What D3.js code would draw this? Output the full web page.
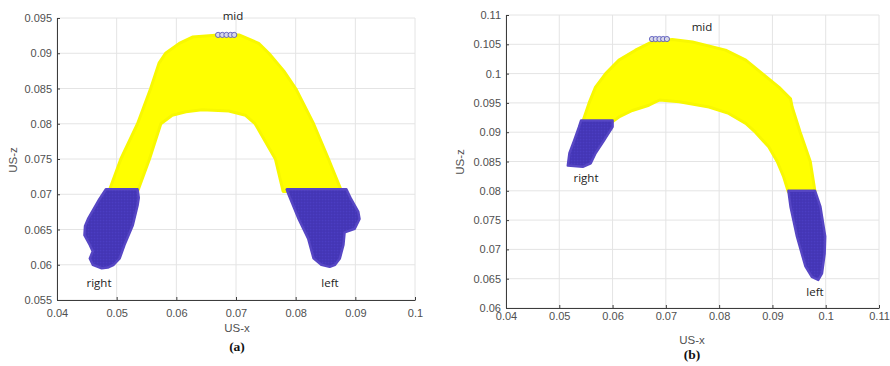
<!DOCTYPE html>
<html>
<head>
<meta charset="utf-8">
<script src="https://cdn.jsdelivr.net/npm/d3@7"></script>
<style>
  body { margin: 0; background: #fff; }
  svg { display: block; }
</style>
</head>
<body>
<svg id="chart"></svg>
<script>
// ---- panel (a) : outlines of the point clouds, [US-x, US-z]
const archA = [
  [0.0487, 0.0704], [0.0507, 0.075], [0.0535, 0.080], [0.0557, 0.085], [0.0571, 0.0886],
  [0.0582, 0.090], [0.0605, 0.0914], [0.0627, 0.0923], [0.0671, 0.0926],
  [0.0705, 0.0926], [0.0738, 0.0914], [0.0755, 0.090], [0.0780, 0.0875], [0.080, 0.085],
  [0.083, 0.080], [0.0855, 0.075], [0.0877, 0.0704],
  [0.0779, 0.0704], [0.0766, 0.075], [0.0732, 0.080], [0.0716, 0.0812], [0.0688, 0.0818],
  [0.0643, 0.0820], [0.0616, 0.0817], [0.0593, 0.0812], [0.0574, 0.080], [0.0555, 0.075],
  [0.0535, 0.0704]
];
const rightA = [
  [0.0482, 0.0707], [0.0535, 0.0707], [0.0537, 0.0695], [0.0535, 0.0684], [0.0527, 0.0656],
  [0.0513, 0.0628], [0.0505, 0.0609], [0.0495, 0.0600], [0.0485, 0.0596], [0.0475, 0.0595],
  [0.0460, 0.0600], [0.0455, 0.0609], [0.0460, 0.0619], [0.0455, 0.0628], [0.0446, 0.0642],
  [0.0447, 0.0655], [0.0452, 0.0665], [0.0471, 0.0693]
];
const leftA = [
  [0.0785, 0.0707], [0.0885, 0.0707], [0.0893, 0.0693], [0.0905, 0.0675], [0.0907, 0.0665],
  [0.0899, 0.0651], [0.0882, 0.0646], [0.0880, 0.0628], [0.0874, 0.0609], [0.0866, 0.0600],
  [0.0857, 0.0597], [0.0843, 0.0600], [0.0830, 0.0609], [0.0821, 0.0637], [0.0805, 0.0665],
  [0.0788, 0.0700]
];
const midA = [[0.0670, 0.0926], [0.0677, 0.0926], [0.0684, 0.0926], [0.0691, 0.0926], [0.0697, 0.0926]];

// ---- panel (b)
const archB = [
  [0.0544, 0.0918], [0.0556, 0.095], [0.0568, 0.0977], [0.0587, 0.100], [0.0612, 0.1023],
  [0.0643, 0.104], [0.0674, 0.1054], [0.0712, 0.1058],
  [0.0750, 0.1054], [0.0812, 0.104], [0.085, 0.1023], [0.0881, 0.100], [0.0912, 0.0977],
  [0.0934, 0.0957], [0.0937, 0.0943], [0.0952, 0.090], [0.0971, 0.085], [0.098, 0.0798],
  [0.093, 0.0798], [0.0921, 0.0824], [0.0909, 0.085], [0.0893, 0.0875], [0.0868, 0.090],
  [0.085, 0.0915], [0.0818, 0.0932], [0.0781, 0.0943], [0.0725, 0.0952], [0.0688, 0.0955],
  [0.0668, 0.0946], [0.0637, 0.0937], [0.0612, 0.0926], [0.060, 0.0918]
];
const rightB = [
  [0.0541, 0.0920], [0.0600, 0.0920], [0.0600, 0.0909], [0.0584, 0.0886], [0.0568, 0.0864],
  [0.0559, 0.0847], [0.0544, 0.0841], [0.0516, 0.0843], [0.0519, 0.0864], [0.0528, 0.0886],
  [0.0537, 0.0909]
];
const leftB = [
  [0.0930, 0.0800], [0.0980, 0.0800], [0.0990, 0.0773], [0.0999, 0.0722], [0.0998, 0.0693],
  [0.0993, 0.0659], [0.0986, 0.0648], [0.0974, 0.0653], [0.0962, 0.0671], [0.0955, 0.0693],
  [0.0946, 0.0722], [0.0934, 0.0773]
];
const midB = [[0.0674, 0.1059], [0.0681, 0.1059], [0.0688, 0.1059], [0.0695, 0.1059], [0.0702, 0.1059]];

// ---- ticks
const xTicksA = [0.04, 0.05, 0.06, 0.07, 0.08, 0.09, 0.1];
const xLabelsA = ["0.04", "0.05", "0.06", "0.07", "0.08", "0.09", "0.1"];
const yTicksA = [0.055, 0.06, 0.065, 0.07, 0.075, 0.08, 0.085, 0.09, 0.095];
const yLabelsA = ["0.055", "0.06", "0.065", "0.07", "0.075", "0.08", "0.085", "0.09", "0.095"];
const xTicksB = [0.04, 0.05, 0.06, 0.07, 0.08, 0.09, 0.1, 0.11];
const xLabelsB = ["0.04", "0.05", "0.06", "0.07", "0.08", "0.09", "0.1", "0.11"];
const yTicksB = [0.06, 0.065, 0.07, 0.075, 0.08, 0.085, 0.09, 0.095, 0.1, 0.105, 0.11];
const yLabelsB = ["0.06", "0.065", "0.07", "0.075", "0.08", "0.085", "0.09", "0.095", "0.1", "0.105", "0.11"];

const svg = d3.select("#chart").attr("width", 890).attr("height", 366);

// blue marker texture
const pat = svg.append("defs").append("pattern")
    .attr("id", "dots")
    .attr("width", 3)
    .attr("height", 3)
    .attr("patternUnits", "userSpaceOnUse");
pat.append("rect").attr("width", 3).attr("height", 3).attr("fill", "#4b3dc2");
pat.append("circle")
    .attr("cx", 1.5).attr("cy", 1.5).attr("r", 1.3)
    .attr("fill", "none").attr("stroke", "#3a2ba6").attr("stroke-width", 0.6);

function drawPanel(p) {
    const x = d3.scaleLinear().domain([p.xTicks[0], p.xTicks[p.xTicks.length - 1]]).range(p.xRange);
    const y = d3.scaleLinear().domain([p.yTicks[0], p.yTicks[p.yTicks.length - 1]]).range(p.yRange);
    const g = svg.append("g");

    // grille
    g.append("g").selectAll("line").data(p.xTicks).join("line")
        .attr("x1", d => x(d)).attr("x2", d => x(d))
        .attr("y1", p.yRange[0]).attr("y2", p.yRange[1])
        .attr("stroke", "#e4e4e4");
    g.append("g").selectAll("line").data(p.yTicks).join("line")
        .attr("x1", p.xRange[0]).attr("x2", p.xRange[1])
        .attr("y1", d => y(d)).attr("y2", d => y(d))
        .attr("stroke", "#e4e4e4");

    const line = d3.line().x(d => x(d[0])).y(d => y(d[1])).curve(d3.curveLinearClosed);

    // nuages de points (jaune puis bleu)
    g.append("path").attr("d", line(p.arch))
        .attr("fill", "#ffff00").attr("stroke", "#f8f800")
        .attr("stroke-width", 3).attr("stroke-linejoin", "round");
    [p.right, p.left].forEach(shape => {
        g.append("path").attr("d", line(shape))
            .attr("fill", "url(#dots)").attr("stroke", "#5646c4")
            .attr("stroke-width", 2.5).attr("stroke-linejoin", "round");
    });
    g.append("g").selectAll("circle").data(p.mid).join("circle")
        .attr("cx", d => x(d[0])).attr("cy", d => y(d[1])).attr("r", 2.6)
        .attr("fill", "#d8d8e8").attr("stroke", "#4a4ab8").attr("stroke-width", 0.8);

    // axes
    const ax = g.append("g").attr("transform", `translate(0,${p.yRange[0]})`)
        .call(d3.axisBottom(x).tickValues(p.xTicks).tickFormat((d, i) => p.xLabels[i])
            .tickSizeInner(-3).tickSizeOuter(0).tickPadding(p.xPad));
    const ay = g.append("g").attr("transform", `translate(${p.xRange[0]},0)`)
        .call(d3.axisLeft(y).tickValues(p.yTicks).tickFormat((d, i) => p.yLabels[i])
            .tickSizeInner(-3).tickSizeOuter(0).tickPadding(5));
    [ax, ay].forEach(a => {
        a.select(".domain").attr("stroke", "#3c3c3c");
        a.selectAll(".tick line").attr("stroke", "#3c3c3c");
        a.selectAll("text").attr("fill", "#505050")
            .style("font-family", "'Liberation Sans', Arial, sans-serif").style("font-size", "11px");
    });

    // titres d'axes
    g.append("text").attr("x", p.xLab[0]).attr("y", p.xLab[1])
        .attr("text-anchor", "middle").attr("fill", "#505050")
        .style("font-family", "'Liberation Sans', Arial, sans-serif").style("font-size", "11.5px")
        .text("US-x");
    g.append("text").attr("transform", `translate(${p.yLab[0]},${p.yLab[1]}) rotate(-90)`)
        .attr("text-anchor", "middle").attr("fill", "#505050")
        .style("font-family", "'Liberation Sans', Arial, sans-serif").style("font-size", "11.5px")
        .text("US-z");

    // annotations
    p.notes.forEach(n => {
        g.append("text").attr("x", n[1]).attr("y", n[2])
            .attr("text-anchor", "middle").attr("fill", "#222")
            .style("font-family", "'Open Sans', 'Noto Sans', sans-serif").style("font-size", "11.5px")
            .text(n[0]);
    });

    g.append("text").attr("x", p.caption[1]).attr("y", p.caption[2])
        .attr("text-anchor", "middle").attr("fill", "#111")
        .style("font-family", "'Liberation Serif', 'Times New Roman', serif")
        .style("font-size", "13.5px").style("font-weight", "bold")
        .text(p.caption[0]);
}

drawPanel({
    xTicks: xTicksA, xLabels: xLabelsA, yTicks: yTicksA, yLabels: yLabelsA,
    xRange: [57, 415], yRange: [300, 18], xPad: 9,
    arch: archA, right: rightA, left: leftA, mid: midA,
    xLab: [237, 332], yLab: [17, 160],
    notes: [["mid", 233, 20], ["right", 99, 287], ["left", 330, 287]],
    caption: ["(a)", 237, 351]
});

drawPanel({
    xTicks: xTicksB, xLabels: xLabelsB, yTicks: yTicksB, yLabels: yLabelsB,
    xRange: [506, 879], yRange: [308, 15], xPad: 4,
    arch: archB, right: rightB, left: leftB, mid: midB,
    xLab: [692, 344], yLab: [464, 162],
    notes: [["mid", 702, 31], ["right", 586, 182], ["left", 815, 296]],
    caption: ["(b)", 692, 359]
});
</script>
</body>
</html>
